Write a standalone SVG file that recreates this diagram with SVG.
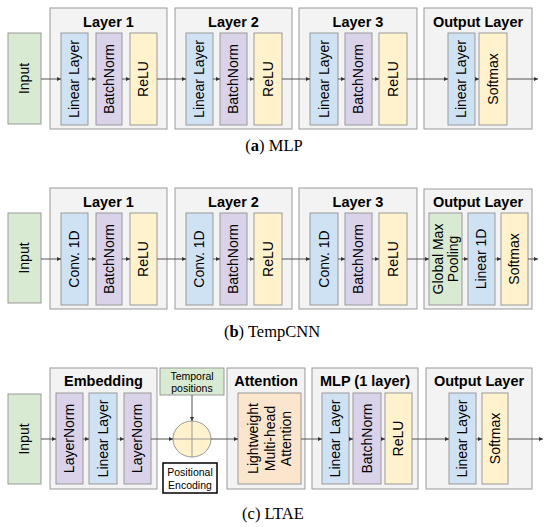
<svg xmlns="http://www.w3.org/2000/svg" width="550" height="527" viewBox="0 0 550 527">
<style>
.grp{fill:#f3f3f3;stroke:#999;stroke-width:1}
.in{fill:#d9ead3;stroke:#999}
.lin{fill:#cfe2f3;stroke:#999}
.bn{fill:#d9d2e9;stroke:#999}
.relu{fill:#fff2cc;stroke:#999}
.att{fill:#fce5cd;stroke:#999}
.t{font-family:"Liberation Sans",Arial,sans-serif;font-size:14px;fill:#000;text-anchor:middle}
.h{font-family:"Liberation Sans",Arial,sans-serif;font-size:14.5px;font-weight:bold;fill:#000;text-anchor:middle}
.s{font-family:"Liberation Sans",Arial,sans-serif;font-size:10.5px;fill:#000;text-anchor:middle}
.cap{font-family:"Liberation Serif","Times New Roman",serif;font-size:16.5px;fill:#000;text-anchor:middle}
.c{stroke:#555;stroke-width:1;fill:none;marker-end:url(#ah)}
.x{stroke:#999;stroke-width:1;fill:none}
</style>
<defs>
<marker id="ah" markerUnits="userSpaceOnUse" markerWidth="4" markerHeight="4" refX="4" refY="2" orient="auto">
<path d="M0,0 L4,2 L0,4 z" fill="#333"/>
</marker>
</defs>

<!-- Panel (a) MLP -->
<g id="a-input"><rect class="in" x="8" y="33" width="33" height="91"/><text class="t" transform="translate(24.5,78.5) rotate(-90)" dy="0.35em">Input</text></g>
<g id="a-layer1"><rect class="grp" x="50" y="8" width="117" height="121"/><text class="h" x="108.5" y="27">Layer 1</text>
<rect class="lin" x="61" y="33" width="27" height="92"/><text class="t" transform="translate(74.5,79) rotate(-90)" dy="0.35em">Linear Layer</text>
<rect class="bn" x="96" y="33" width="26" height="92"/><text class="t" transform="translate(109,79) rotate(-90)" dy="0.35em">BatchNorm</text>
<rect class="relu" x="130" y="33" width="27" height="92"/><text class="t" transform="translate(143.5,79) rotate(-90)" dy="0.35em">ReLU</text></g>
<g id="a-layer2"><rect class="grp" x="175" y="8" width="117" height="121"/><text class="h" x="233.5" y="27">Layer 2</text>
<rect class="lin" x="186" y="33" width="27" height="92"/><text class="t" transform="translate(199.5,79) rotate(-90)" dy="0.35em">Linear Layer</text>
<rect class="bn" x="220" y="33" width="27" height="92"/><text class="t" transform="translate(233.5,79) rotate(-90)" dy="0.35em">BatchNorm</text>
<rect class="relu" x="254" y="33" width="28" height="92"/><text class="t" transform="translate(268,79) rotate(-90)" dy="0.35em">ReLU</text></g>
<g id="a-layer3"><rect class="grp" x="299" y="8" width="118" height="121"/><text class="h" x="358" y="27">Layer 3</text>
<rect class="lin" x="310" y="33" width="28" height="92"/><text class="t" transform="translate(324,79) rotate(-90)" dy="0.35em">Linear Layer</text>
<rect class="bn" x="345" y="33" width="27" height="92"/><text class="t" transform="translate(358.5,79) rotate(-90)" dy="0.35em">BatchNorm</text>
<rect class="relu" x="379" y="33" width="28" height="92"/><text class="t" transform="translate(393,79) rotate(-90)" dy="0.35em">ReLU</text></g>
<g id="a-output"><rect class="grp" x="424" y="8" width="108" height="121"/><text class="h" x="478" y="27">Output Layer</text>
<rect class="lin" x="448" y="33" width="27" height="92"/><text class="t" transform="translate(461.5,79) rotate(-90)" dy="0.35em">Linear Layer</text>
<rect class="relu" x="479" y="33" width="28" height="92"/><text class="t" transform="translate(493,79) rotate(-90)" dy="0.35em">Softmax</text></g>
<text id="cap-a" class="cap" x="274" y="151">(<tspan font-weight="bold">a</tspan>) MLP</text>

<!-- Panel (b) TempCNN -->
<g id="b-input"><rect class="in" x="8" y="213" width="33" height="90"/><text class="t" transform="translate(24.5,258) rotate(-90)" dy="0.35em">Input</text></g>
<g id="b-layer1"><rect class="grp" x="50" y="188" width="117" height="121"/><text class="h" x="108.5" y="207">Layer 1</text>
<rect class="lin" x="61" y="213" width="27" height="92"/><text class="t" transform="translate(74.5,259) rotate(-90)" dy="0.35em">Conv. 1D</text>
<rect class="bn" x="96" y="213" width="26" height="92"/><text class="t" transform="translate(109,259) rotate(-90)" dy="0.35em">BatchNorm</text>
<rect class="relu" x="130" y="213" width="27" height="92"/><text class="t" transform="translate(143.5,259) rotate(-90)" dy="0.35em">ReLU</text></g>
<g id="b-layer2"><rect class="grp" x="175" y="188" width="117" height="121"/><text class="h" x="233.5" y="207">Layer 2</text>
<rect class="lin" x="186" y="213" width="27" height="92"/><text class="t" transform="translate(199.5,259) rotate(-90)" dy="0.35em">Conv. 1D</text>
<rect class="bn" x="220" y="213" width="27" height="92"/><text class="t" transform="translate(233.5,259) rotate(-90)" dy="0.35em">BatchNorm</text>
<rect class="relu" x="254" y="213" width="28" height="92"/><text class="t" transform="translate(268,259) rotate(-90)" dy="0.35em">ReLU</text></g>
<g id="b-layer3"><rect class="grp" x="299" y="188" width="118" height="121"/><text class="h" x="358" y="207">Layer 3</text>
<rect class="lin" x="310" y="213" width="28" height="92"/><text class="t" transform="translate(324,259) rotate(-90)" dy="0.35em">Conv. 1D</text>
<rect class="bn" x="345" y="213" width="27" height="92"/><text class="t" transform="translate(358.5,259) rotate(-90)" dy="0.35em">BatchNorm</text>
<rect class="relu" x="379" y="213" width="28" height="92"/><text class="t" transform="translate(393,259) rotate(-90)" dy="0.35em">ReLU</text></g>
<g id="b-output"><rect class="grp" x="424" y="189" width="108" height="120"/><text class="h" x="478" y="207">Output Layer</text>
<rect class="in" x="429" y="213" width="33" height="92"/><text class="t" transform="translate(445.5,259) rotate(-90)"><tspan x="0" dy="-2.5">Global Max</tspan><tspan x="0" dy="15">Pooling</tspan></text>
<rect class="lin" x="468" y="213" width="27" height="92"/><text class="t" transform="translate(481.5,259) rotate(-90)" dy="0.35em">Linear 1D</text>
<rect class="relu" x="501" y="213" width="27" height="92"/><text class="t" transform="translate(514.5,259) rotate(-90)" dy="0.35em">Softmax</text></g>
<text id="cap-b" class="cap" x="272" y="337">(<tspan font-weight="bold">b</tspan>) TempCNN</text>

<!-- Panel (c) LTAE -->
<g id="c-input"><rect class="in" x="8" y="394" width="33" height="90"/><text class="t" transform="translate(24.5,439) rotate(-90)" dy="0.35em">Input</text></g>
<g id="c-embedding"><rect class="grp" x="50" y="368" width="107" height="121"/><text class="h" x="103.5" y="386">Embedding</text>
<rect class="bn" x="56" y="393" width="27" height="91"/><text class="t" transform="translate(69.5,438.5) rotate(-90)" dy="0.35em">LayerNorm</text>
<rect class="lin" x="89" y="393" width="28" height="91"/><text class="t" transform="translate(103,438.5) rotate(-90)" dy="0.35em">Linear Layer</text>
<rect class="bn" x="124" y="393" width="27" height="91"/><text class="t" transform="translate(137.5,438.5) rotate(-90)" dy="0.35em">LayerNorm</text></g>
<g id="c-temporal"><rect class="in" x="160" y="368" width="64" height="27"/><text class="s" x="192" y="379.5">Temporal</text><text class="s" x="192" y="391.5">positions</text></g>
<g id="c-sum"><ellipse cx="192" cy="439" rx="19" ry="18" fill="#fff2cc" stroke="#999"/><line class="x" x1="173" y1="439" x2="211" y2="439"/><line class="x" x1="192" y1="421" x2="192" y2="457"/></g>
<g id="c-posenc"><rect x="163" y="463" width="54" height="30" fill="#fff" stroke="#000" stroke-width="1.5"/><text class="s" x="190" y="476">Positional</text><text class="s" x="190" y="489">Encoding</text></g>
<g id="c-attention"><rect class="grp" x="227" y="368" width="78" height="121"/><text class="h" x="266" y="386">Attention</text>
<rect class="att" x="238" y="393" width="63" height="91"/><text class="t" transform="translate(269.5,438.5) rotate(-90)"><tspan x="0" dy="-11.5">Lightweight</tspan><tspan x="0" dy="16.5">Multi-head</tspan><tspan x="0" dy="16.5">Attention</tspan></text></g>
<g id="c-mlp"><rect class="grp" x="312" y="368" width="106" height="121"/><text class="h" x="365" y="386">MLP (1 layer)</text>
<rect class="lin" x="322" y="393" width="27" height="91"/><text class="t" transform="translate(335.5,438.5) rotate(-90)" dy="0.35em">Linear Layer</text>
<rect class="bn" x="353" y="393" width="28" height="91"/><text class="t" transform="translate(367,438.5) rotate(-90)" dy="0.35em">BatchNorm</text>
<rect class="relu" x="385" y="393" width="27" height="91"/><text class="t" transform="translate(398.5,438.5) rotate(-90)" dy="0.35em">ReLU</text></g>
<g id="c-output"><rect class="grp" x="426" y="368" width="106" height="121"/><text class="h" x="479" y="386">Output Layer</text>
<rect class="lin" x="449" y="393" width="27" height="91"/><text class="t" transform="translate(462.5,438.5) rotate(-90)" dy="0.35em">Linear Layer</text>
<rect class="relu" x="482" y="393" width="26" height="91"/><text class="t" transform="translate(495,438.5) rotate(-90)" dy="0.35em">Softmax</text></g>
<text id="cap-c" class="cap" x="273" y="519">(c) LTAE</text>

<!-- Connectors -->
<g id="connectors">
<path class="c" d="M41,79 H61"/><path class="c" d="M88,79 H96"/><path class="c" d="M122,79 H130"/>
<path class="c" d="M157,79 H186"/><path class="c" d="M213,79 H220"/><path class="c" d="M247,79 H254"/>
<path class="c" d="M282,79 H310"/><path class="c" d="M338,79 H345"/><path class="c" d="M372,79 H379"/>
<path class="c" d="M407,79 H448"/><path class="c" d="M475,79 H479"/><path class="c" d="M507,79 H538"/>

<path class="c" d="M41,259 H61"/><path class="c" d="M88,259 H96"/><path class="c" d="M122,259 H130"/>
<path class="c" d="M157,259 H186"/><path class="c" d="M213,259 H220"/><path class="c" d="M247,259 H254"/>
<path class="c" d="M282,259 H310"/><path class="c" d="M338,259 H345"/><path class="c" d="M372,259 H379"/>
<path class="c" d="M407,259 H429"/><path class="c" d="M462,259 H468"/><path class="c" d="M495,259 H501"/><path class="c" d="M528,259 H538"/>

<path class="c" d="M41,439 H56"/><path class="c" d="M83,439 H89"/><path class="c" d="M117,439 H124"/>
<path class="c" d="M151,439 H173"/><path class="c" d="M192,395 V421"/><path class="c" d="M211,439 H238"/>
<path class="c" d="M301,439 H322"/><path class="c" d="M349,439 H353"/><path class="c" d="M381,439 H385"/>
<path class="c" d="M412,439 H449"/><path class="c" d="M476,439 H482"/><path class="c" d="M508,439 H543"/>
</g>
</svg>
